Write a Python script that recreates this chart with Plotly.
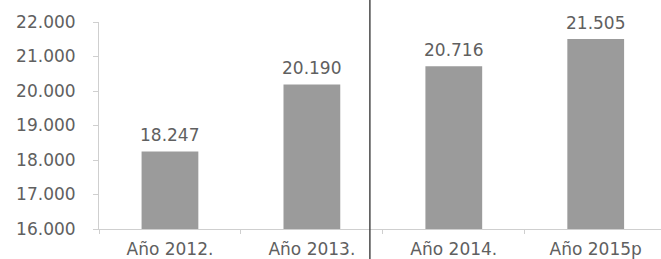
import plotly.graph_objects as go

categories = ["Año 2012.", "Año 2013.", "Año 2014.", "Año 2015p"]
values = [18247, 20190, 20716, 21505]
y_ticks = [16000, 17000, 18000, 19000, 20000, 21000, 22000]

FONT = "DejaVu Sans"
TXT = "#606060"

fig = go.Figure()
fig.add_trace(go.Bar(
    x=categories, y=values, width=0.4,
    marker=dict(color="#9b9b9b", line=dict(width=0)),
    hoverinfo="skip",
))

for c, v in zip(categories, values):
    fig.add_annotation(
        x=c, y=v, text=f"{v:,}".replace(",", "."),
        showarrow=False, yanchor="bottom", yshift=4,
        font=dict(family=FONT, size=17, color=TXT),
    )

# scanned page fold line
fig.add_shape(type="line", xref="paper", yref="paper",
              x0=0.482, x1=0.482, y0=-0.2, y1=1.2,
              line=dict(color="#4a4a4a", width=1.5), layer="above")

fig.update_layout(
    width=661, height=259,
    margin=dict(l=99, r=0, t=22, b=30, autoexpand=False),
    paper_bgcolor="white", plot_bgcolor="white",
    separators=",.",
    showlegend=False,
    bargap=0.6,
    font=dict(family=FONT, size=17, color=TXT),
)
fig.update_xaxes(
    type="category", range=[-0.5, 3.46], automargin=False,
    showline=True, linecolor="#cfcfcf", linewidth=1,
    ticks="outside", tickson="boundaries", ticklen=4, tickcolor="#cfcfcf",
    showgrid=False, zeroline=False,
    tickfont=dict(family=FONT, size=17, color=TXT),
    ticklabelstandoff=5,
)
fig.update_yaxes(
    range=[16000, 22000], tickvals=y_ticks, tickformat=",d", automargin=False,
    showline=True, linecolor="#cfcfcf", linewidth=1,
    ticks="outside", ticklen=5, tickcolor="#cfcfcf",
    showgrid=False, zeroline=False,
    tickfont=dict(family=FONT, size=17, color=TXT),
    ticklabelstandoff=14,
)

fig.write_html(
    "out.html",
    config={"displayModeBar": False},
    post_script="document.body.style.margin='0';document.body.style.overflow='hidden';",
)
